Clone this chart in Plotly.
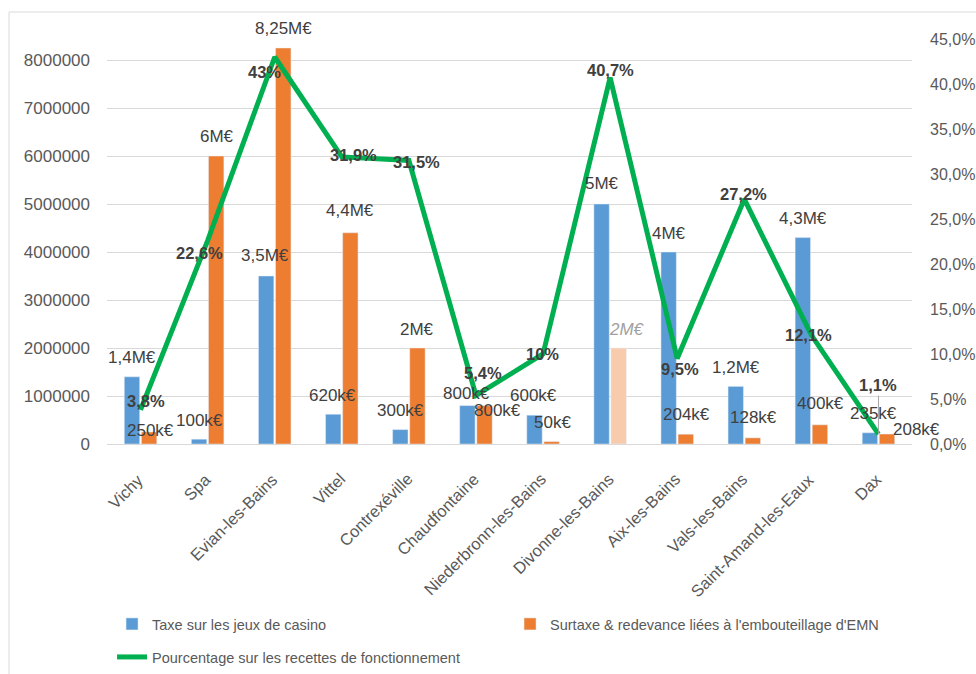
import plotly.graph_objects as go

categories = ["Vichy", "Spa", "Evian-les-Bains", "Vittel", "Contrexéville", "Chaudfontaine",
              "Niederbronn-les-Bains", "Divonne-les-Bains", "Aix-les-Bains", "Vals-les-Bains",
              "Saint-Amand-les-Eaux", "Dax"]
casino_tax = [1400000, 100000, 3500000, 620000, 300000, 800000, 600000, 5000000, 4000000, 1200000, 4300000, 235000]
bottling_tax = [250000, 6000000, 8250000, 4400000, 2000000, 800000, 50000, 2000000, 204000, 128000, 400000, 208000]
pct_operating = [3.8, 22.6, 43, 31.9, 31.5, 5.4, 10, 40.7, 9.5, 27.2, 12.1, 1.1]

casino_labels = ["1,4M€", "100k€", "3,5M€", "620k€", "300k€", "800k€", "600k€", "5M€", "4M€", "1,2M€", "4,3M€", "235k€"]
bottling_labels = ["250k€", "6M€", "8,25M€", "4,4M€", "2M€", "800k€", "50k€", "2M€", "204k€", "128k€", "400k€", "208k€"]
pct_labels = ["3,8%", "22,6%", "43%", "31,9%", "31,5%", "5,4%", "10%", "40,7%", "9,5%", "27,2%", "12,1%", "1,1%"]

left_ticks = [0, 1000000, 2000000, 3000000, 4000000, 5000000, 6000000, 7000000, 8000000]
right_ticks = [0, 5, 10, 15, 20, 25, 30, 35, 40, 45]

# label placement offsets (pixels)
casino_dx = [0, 0, -1, -1, 0, -1, -1, 0, 0, 0, 0, 4]
casino_dy = [19, 19, 21, 19, 19, 12, 20, 21, 19, 19, 19, 19]
bottling_dx = [1, 1, 0, 0, 0, 13, 1, 8, 1, 1, 1, 29]
bottling_dy = [2, 20, 20, 22, 19, -5, 19, 19, 20, 20, 21, 5]
pct_dx = [5, -8, -10, 12, 8, 7, -1, 0, 3, -1, -3, 0]
pct_dy = [9, -12, -15, 2, -1.5, 22, 0, 8, -10.5, 5, 0, 49]

BLUE = "#5B9BD5"
ORANGE = "#ED7D31"
PEACH = "#F8CBAD"
GREEN = "#00B050"
FONT = "Liberation Sans"
TXT = "#404040"
AX = "#595959"

orange_colors = [PEACH if c == "Divonne-les-Bains" else ORANGE for c in categories]

fig = go.Figure()
fig.add_trace(go.Bar(x=categories, y=casino_tax, name="Taxe sur les jeux de casino",
                     marker=dict(color=BLUE), legend="legend"))
fig.add_trace(go.Bar(x=categories, y=bottling_tax, name="Surtaxe & redevance liées à l'embouteillage d'EMN",
                     marker=dict(color=orange_colors), legend="legend"))
fig.add_trace(go.Scatter(x=categories, y=pct_operating, name="Pourcentage sur les recettes de fonctionnement",
                         mode="lines", line=dict(color=GREEN, width=5), yaxis="y2", legend="legend2"))

plot_w = 976 - 107 - 64
half = (plot_w / len(categories)) * 0.51 / 4

annotations = []
for i, c in enumerate(categories):
    # category label (rotated)
    annotations.append(dict(x=c, y=0, xref="x", yref="y", text=c, textangle=-45,
                            showarrow=False, xanchor="right", yanchor="top", xshift=9, yshift=-23,
                            font=dict(family=FONT, size=16.5, color=AX)))
    annotations.append(dict(x=c, y=casino_tax[i], xref="x", yref="y", text=casino_labels[i],
                            showarrow=False, xshift=-half + casino_dx[i], yshift=casino_dy[i],
                            font=dict(family=FONT, size=17, color=TXT)))
    italic = c == "Divonne-les-Bains"
    annotations.append(dict(x=c, y=bottling_tax[i], xref="x", yref="y",
                            text=("<i>%s</i>" % bottling_labels[i]) if italic else bottling_labels[i],
                            showarrow=False, xshift=half + bottling_dx[i], yshift=bottling_dy[i],
                            font=dict(family=FONT, size=17, color="#a0a0a0" if italic else TXT)))
    if i == len(categories) - 1:
        annotations.append(dict(x=c, y=pct_operating[i], xref="x", yref="y2", text=pct_labels[i],
                                showarrow=True, ax=pct_dx[i], ay=-pct_dy[i], arrowhead=0, arrowwidth=1,
                                arrowcolor="#a6a6a6", standoff=0,
                                font=dict(family=FONT, size=16.5, color=TXT, weight="bold")))
    else:
        annotations.append(dict(x=c, y=pct_operating[i], xref="x", yref="y2", text=pct_labels[i],
                                showarrow=False, xshift=pct_dx[i], yshift=pct_dy[i],
                                font=dict(family=FONT, size=16.5, color=TXT, weight="bold")))

right_text = [("%.1f" % v).replace(".", ",") + "%" for v in right_ticks]

fig.update_layout(
    width=976, height=674,
    margin=dict(l=107, r=64, t=12, b=230),
    paper_bgcolor="white", plot_bgcolor="white",
    barmode="group", bargap=0.49, bargroupgap=0.1,
    font=dict(family=FONT, color=AX),
    xaxis=dict(type="category", range=[-0.5, len(categories) - 0.5], showticklabels=False, automargin=False,
               showline=True, linecolor="#d9d9d9", linewidth=1, ticks="", showgrid=False),
    yaxis=dict(range=[0, 9000000], tickvals=left_ticks, tickformat="d", automargin=False,
               tickfont=dict(size=17, color=AX), showgrid=True, gridcolor="#d9d9d9", gridwidth=1,
               zeroline=False, ticks="", ticklabelstandoff=16),
    yaxis2=dict(range=[0, 48], overlaying="y", side="right", tickvals=right_ticks, ticktext=right_text,
                tickfont=dict(size=16, color=AX), showgrid=False, zeroline=False, ticks="",
                ticklabelstandoff=17, automargin=False),
    legend=dict(orientation="h", xref="container", yref="container", x=0.1148, xanchor="left",
                y=1 - 624 / 674, yanchor="middle",
                font=dict(family=FONT, size=14.5, color=AX), entrywidth=353, bgcolor="rgba(0,0,0,0)"),
    legend2=dict(orientation="h", xref="container", yref="container", x=0.1148, xanchor="left",
                 y=1 - 657 / 674, yanchor="middle",
                 font=dict(family=FONT, size=14.5, color=AX), bgcolor="rgba(0,0,0,0)"),
    annotations=annotations,
    shapes=[
        dict(type="line", xref="paper", yref="paper", x0=-0.1217, x1=-0.1217, y0=1, y1=-0.6,
             line=dict(color="#d9d9d9", width=1)),
        dict(type="line", xref="paper", yref="paper", x0=-0.1217, x1=1.1, y0=1, y1=1,
             line=dict(color="#d9d9d9", width=1)),
    ],
)

fig.write_html("out.html", config={"displayModeBar": False},
               post_script="document.body.style.margin='0';")
